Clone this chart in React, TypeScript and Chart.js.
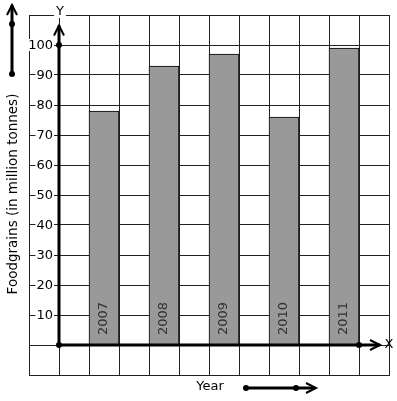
import React, { useEffect, useRef } from "react";
import { Chart, registerables } from "chart.js";

Chart.register(...registerables);

const years = ["2007", "2008", "2009", "2010", "2011"];
const production = [78, 93, 97, 76, 99];
const barPositions = [1.5, 3.5, 5.5, 7.5, 9.5];
const yTickValues = [10, 20, 30, 40, 50, 60, 70, 80, 90, 100];
const yTitle = "Foodgrains (in million tonnes)";
const xTitle = "Year";

const FONT = '"DejaVu Sans", sans-serif';

function dot(ctx: CanvasRenderingContext2D, x: number, y: number, r = 3) {
  ctx.beginPath();
  ctx.arc(x, y, r, 0, Math.PI * 2);
  ctx.fill();
}

function chevron(ctx: CanvasRenderingContext2D, x: number, y: number, dir: "up" | "right") {
  ctx.beginPath();
  if (dir === "up") {
    ctx.moveTo(x - 5, y + 10);
    ctx.lineTo(x, y);
    ctx.lineTo(x + 5, y + 10);
  } else {
    ctx.moveTo(x - 10, y - 5);
    ctx.lineTo(x, y);
    ctx.lineTo(x - 10, y + 5);
  }
  ctx.stroke();
}

const decorPlugin = {
  id: "decor",
  afterDatasetsDraw(chart: any) {
    const ctx: CanvasRenderingContext2D = chart.ctx;
    const xs = chart.scales.x;
    const ys = chart.scales.y;
    const x0 = xs.getPixelForValue(0);
    const y0 = ys.getPixelForValue(0);
    ctx.save();
    // bar labels
    ctx.fillStyle = "#333";
    ctx.font = `13px ${FONT}`;
    ctx.textAlign = "left";
    ctx.textBaseline = "middle";
    years.forEach((yr, i) => {
      const px = xs.getPixelForValue(barPositions[i]);
      ctx.save();
      ctx.translate(px, y0 - 10);
      ctx.rotate(-Math.PI / 2);
      ctx.fillText(yr, 0, 0);
      ctx.restore();
    });
    // tick labels
    ctx.font = `13px ${FONT}`;
    ctx.textAlign = "right";
    ctx.textBaseline = "middle";
    yTickValues.forEach((v) => {
      const py = ys.getPixelForValue(v);
      const w = ctx.measureText(String(v)).width;
      ctx.fillStyle = "#fff";
      ctx.fillRect(x0 - 6 - w - 1, py - 6, w + 2, 12);
      ctx.fillStyle = "#000";
      ctx.fillText(String(v), x0 - 6, py + 1);
    });
    // axes
    ctx.strokeStyle = "#000";
    ctx.fillStyle = "#000";
    ctx.lineWidth = 3;
    ctx.lineCap = "butt";
    const yTop = ys.getPixelForValue(106.5);
    ctx.beginPath();
    ctx.moveTo(x0, y0);
    ctx.lineTo(x0, yTop);
    ctx.stroke();
    ctx.lineWidth = 2;
    chevron(ctx, x0, yTop, "up");
    const xEnd = xs.getPixelForValue(10.7);
    ctx.lineWidth = 3;
    ctx.beginPath();
    ctx.moveTo(x0, y0);
    ctx.lineTo(xEnd, y0);
    ctx.stroke();
    ctx.lineWidth = 2;
    chevron(ctx, xEnd, y0, "right");
    dot(ctx, x0, y0);
    dot(ctx, x0, ys.getPixelForValue(100));
    dot(ctx, xs.getPixelForValue(10), y0);
    // axis letters
    ctx.font = `13px ${FONT}`;
    ctx.textAlign = "center";
    ctx.textBaseline = "middle";
    const yl = chart.chartArea.top - 3;
    ctx.fillStyle = "#fff";
    ctx.fillRect(x0 - 5, yl - 8, 12, 14);
    ctx.fillStyle = "#000";
    ctx.fillText("Y", x0 + 1, yl);
    ctx.fillText("X", xEnd + 9, y0);
    // Y title
    ctx.save();
    ctx.font = `13.5px ${FONT}`;
    ctx.translate(13, 194);
    ctx.rotate(-Math.PI / 2);
    ctx.fillText(yTitle, 0, 0);
    ctx.restore();
    // left arrow
    ctx.lineWidth = 3;
    ctx.beginPath();
    ctx.moveTo(12, 74);
    ctx.lineTo(12, 5);
    ctx.stroke();
    ctx.lineWidth = 2;
    chevron(ctx, 12, 5, "up");
    dot(ctx, 12, 74);
    dot(ctx, 12, 24);
    // X title + arrow
    ctx.fillText(xTitle, 210, 387);
    ctx.lineWidth = 3;
    ctx.beginPath();
    ctx.moveTo(246, 388);
    ctx.lineTo(315, 388);
    ctx.stroke();
    ctx.lineWidth = 2;
    chevron(ctx, 316, 388, "right");
    dot(ctx, 246, 388);
    dot(ctx, 296, 388);
    ctx.restore();
  },
};

export default function App() {
  const ref = useRef<HTMLCanvasElement>(null);
  useEffect(() => {
    document.body.style.margin = "0";
    const chart = new Chart(ref.current!, {
      type: "bar",
      data: {
        datasets: [
          {
            data: barPositions.map((x, i) => ({ x, y: production[i] })),
            backgroundColor: "#999999",
            borderColor: "#000",
            borderWidth: 1,
            barPercentage: 1,
            categoryPercentage: 1,
          },
        ],
      },
      options: {
        animation: false,
        responsive: false,
        devicePixelRatio: 1,
        layout: { padding: { left: 29, top: 15, right: 8, bottom: 26 } },
        plugins: { legend: { display: false }, tooltip: { enabled: false } },
        scales: {
          x: {
            type: "linear",
            min: -1,
            max: 11,
            offset: false,
            ticks: { display: false, stepSize: 1 },
            grid: { color: "#222", lineWidth: 1, drawTicks: false, offset: false },
            border: { color: "#222", width: 1 },
          },
          y: {
            type: "linear",
            min: -10,
            max: 110,
            ticks: { display: false, stepSize: 10 },
            grid: { color: "#222", lineWidth: 1, drawTicks: false },
            border: { color: "#222", width: 1 },
          },
        },
      },
      plugins: [decorPlugin],
    });
    return () => chart.destroy();
  }, []);
  return (
    <div style={{ position: "absolute", left: 0, top: 0, width: 397, height: 401 }}>
      <canvas ref={ref} width={397} height={401} />
    </div>
  );
}
